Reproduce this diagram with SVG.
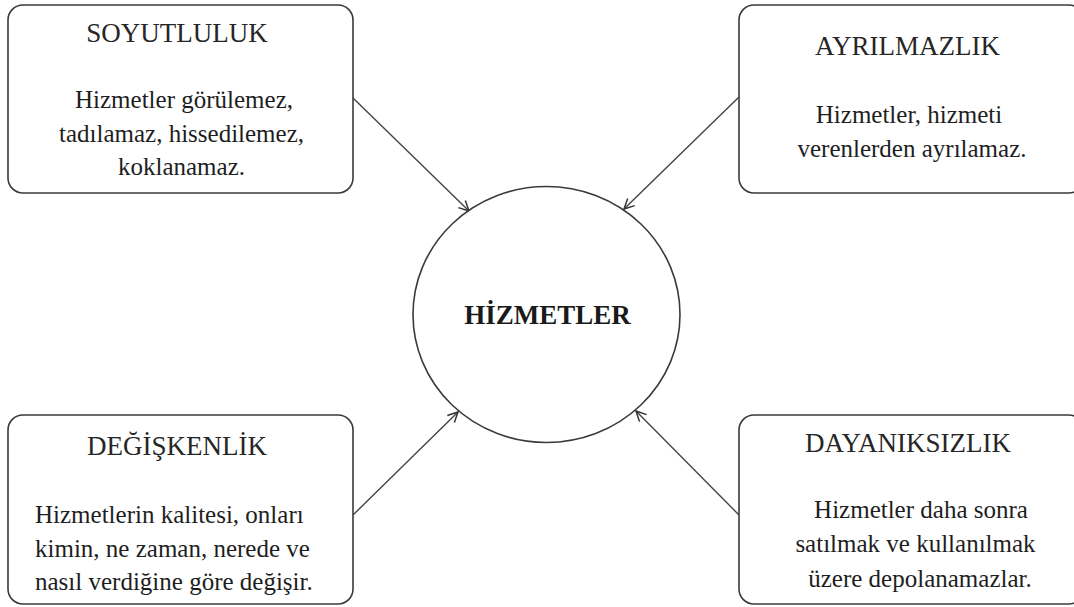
<svg xmlns="http://www.w3.org/2000/svg" width="1074" height="607" viewBox="0 0 1074 607">
  <style>
    .box { fill: #ffffff; stroke: #3a3a3a; stroke-width: 1.6; }
    .hub { fill: #ffffff; stroke: #3a3a3a; stroke-width: 1.6; }
    .title { font-family: "Liberation Serif", "Times New Roman", serif; font-size: 27px; fill: #262626; text-anchor: middle; }
    .desc { font-family: "Liberation Serif", "Times New Roman", serif; font-size: 25px; fill: #1e1e1e; text-anchor: middle; }
    .start { text-anchor: start; }
    .hubtext { font-family: "Liberation Serif", "Times New Roman", serif; font-size: 27px; font-weight: bold; fill: #1a1a1a; text-anchor: middle; }
    .link { stroke: #444444; stroke-width: 1.4; fill: none; marker-end: url(#arrow); }
  </style>
  <defs>
    <marker id="arrow" markerUnits="userSpaceOnUse" markerWidth="14" markerHeight="14" refX="11" refY="6" orient="auto">
      <path d="M1,1 L11,6 L1,11" fill="none" stroke="#333333" stroke-width="1.5"/>
    </marker>
  </defs>

  <rect width="1074" height="607" fill="#ffffff"/>

  <!-- connectors: each property points into the central concept -->
  <g id="connectors">
    <line class="link" x1="353" y1="98" x2="469" y2="211"/>
    <line class="link" x1="739" y1="97" x2="624" y2="209"/>
    <line class="link" x1="353" y1="515" x2="458" y2="412"/>
    <line class="link" x1="739" y1="515" x2="636" y2="411"/>
  </g>

  <g id="hizmetler">
    <ellipse class="hub" cx="546.5" cy="314.5" rx="133.5" ry="128"/>
    <text class="hubtext" x="547.5" y="324" font-family="Liberation Serif, serif">HİZMETLER</text>
  </g>

  <g id="soyutluluk" font-family="Liberation Serif, serif">
    <rect class="box" x="8" y="5" width="345" height="188" rx="15" ry="15"/>
    <text class="title" x="177" y="42">SOYUTLULUK</text>
    <text class="desc" x="184" y="108">Hizmetler görülemez,</text>
    <text class="desc" x="181.5" y="142">tadılamaz, hissedilemez,</text>
    <text class="desc" x="181.5" y="175">koklanamaz.</text>
  </g>

  <g id="ayrilmazlik" font-family="Liberation Serif, serif">
    <rect class="box" x="739" y="5" width="345" height="188" rx="15" ry="15"/>
    <text class="title" x="907.5" y="55">AYRILMAZLIK</text>
    <text class="desc" x="909" y="123">Hizmetler, hizmeti</text>
    <text class="desc" x="912" y="157">verenlerden ayrılamaz.</text>
  </g>

  <g id="degiskenlik" font-family="Liberation Serif, serif">
    <rect class="box" x="8" y="415" width="345" height="189" rx="15" ry="15"/>
    <text class="title" x="177" y="455">DEĞİŞKENLİK</text>
    <text class="desc start" x="35" y="523">Hizmetlerin kalitesi, onları</text>
    <text class="desc start" x="35" y="557">kimin, ne zaman, nerede ve</text>
    <text class="desc start" x="35" y="590">nasıl verdiğine göre değişir.</text>
  </g>

  <g id="dayaniksizlik" font-family="Liberation Serif, serif">
    <rect class="box" x="739" y="415" width="345" height="189" rx="15" ry="15"/>
    <text class="title" x="908" y="452">DAYANIKSIZLIK</text>
    <text class="desc" x="921" y="518">Hizmetler daha sonra</text>
    <text class="desc" x="915.5" y="552">satılmak ve kullanılmak</text>
    <text class="desc" x="920" y="587">üzere depolanamazlar.</text>
  </g>
</svg>
